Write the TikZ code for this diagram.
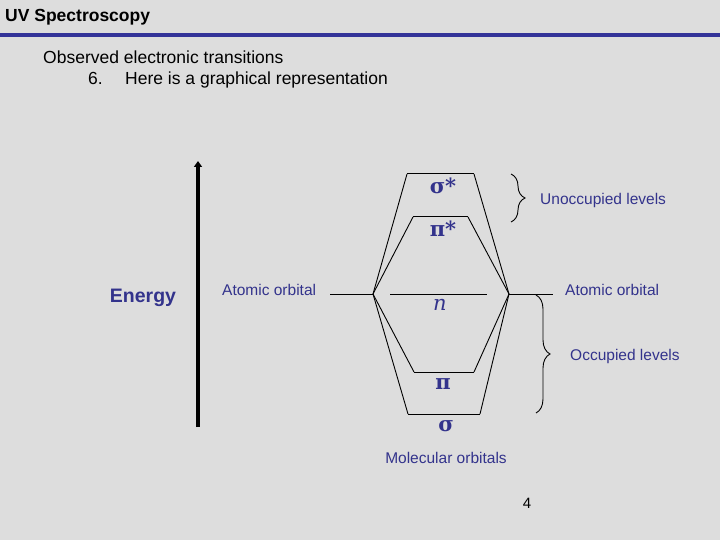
\documentclass[tikz,border=0pt]{standalone}
\usepackage{fontspec}
\setmainfont{Liberation Sans}
\newfontfamily\greekfont{DejaVu Serif}
\usetikzlibrary{arrows.meta,decorations.pathreplacing}
\definecolor{bg}{RGB}{221,221,221}
\definecolor{txtblue}{RGB}{51,51,140}
\definecolor{barblue}{RGB}{51,51,153}
\tikzset{
  lvl/.style={line width=1pt, black},
  conn/.style={line width=0.9pt, black},
  lbl/.style={text=txtblue, font=\fontsize{15.5}{18}\selectfont, inner sep=0pt},
  hdr/.style={anchor=base west, inner sep=0pt, font=\fontsize{17.5}{20}\selectfont},
  greek/.style={text=txtblue, font=\greekfont\bfseries\fontsize{21}{22}\selectfont, inner sep=0pt},
  brc/.style={decorate, decoration={brace, amplitude=14pt}, line width=0.9pt},
}
\begin{document}
\begin{tikzpicture}[x=1pt,y=-1pt]
\useasboundingbox (0,0) rectangle (720,540);
\fill[bg] (0,0) rectangle (720,540);
% header
\node[anchor=base west, inner sep=0pt, font=\bfseries\fontsize{17.5}{20}\selectfont] (title) at (5,22) {UV Spectroscopy};
\fill[barblue] (0,33) rectangle (720,37);
\node[hdr] (obs) at (43,64) {Observed electronic transitions};
\node[hdr] (six) at (88,85) {6.};
\node[hdr] (here) at (125,85) {Here is a graphical representation};
% energy axis
\coordinate (ebot) at (198,427);
\coordinate (etop) at (198,161);
\draw[line width=4pt, -{Triangle[length=6pt,width=8pt]}] (ebot) -- (etop);
\node[text=txtblue, inner sep=0pt, font=\bfseries\fontsize{19.5}{22}\selectfont] (energy) at (143,298) {Energy};
% atomic orbitals
\coordinate (lv) at (373,294);
\coordinate (rv) at (509,294);
\coordinate (la) at (330,294);
\coordinate (ra) at (553,294);
\draw[lvl] (la) -- (lv);
\draw[lvl] (rv) -- (ra);
\node[lbl, anchor=west] (aol) at (222,290) {Atomic orbital};
\node[lbl, anchor=west] (aor) at (565,290) {Atomic orbital};
% MO levels
\coordinate (ssl) at (407,174); \coordinate (ssr) at (474,174);
\coordinate (ppl) at (413,217); \coordinate (ppr) at (468,217);
\coordinate (nl) at (390,294);  \coordinate (nr) at (487,294);
\coordinate (pl) at (414,372);  \coordinate (pr) at (474,372);
\coordinate (sl) at (408,414);  \coordinate (sr) at (480,414);
\draw[lvl] (ssl) -- (ssr);
\draw[lvl] (ppl) -- (ppr);
\draw[lvl] (nl) -- (nr);
\draw[lvl] (pl) -- (pr);
\draw[lvl] (sl) -- (sr);
% connectors
\foreach \a in {ssl,ppl,pl,sl} \draw[conn] (lv) -- (\a);
\foreach \a in {ssr,ppr,pr,sr} \draw[conn] (rv) -- (\a);
% greek labels
\node[greek] (lss) at (443,186) {σ*};
\node[greek] (lpp) at (443,229) {π*};
\node[text=txtblue, inner sep=0pt, font=\itshape\fontsize{21}{22}\selectfont] (ln) at (440,305) {\greekfont n};
\node[greek] (lp) at (443,384) {π};
\node[greek] (ls) at (446,426) {σ};
% braces
\coordinate (ub1) at (511,174); \coordinate (ub2) at (511,222);
\draw[brc] (ub1) -- (ub2);
\node[lbl, anchor=west] (unocc) at (540,200) {Unoccupied levels};
\coordinate (ob1) at (536,295); \coordinate (ob2) at (536,413);
\draw[brc] (ob1) -- (ob2);
\node[lbl, anchor=west] (occ) at (570,356) {Occupied levels};
\node[lbl] (mo) at (446,458) {Molecular orbitals};
\node[inner sep=0pt, font=\fontsize{15}{18}\selectfont] (pg) at (527,503) {4};
\end{tikzpicture}
\end{document}
